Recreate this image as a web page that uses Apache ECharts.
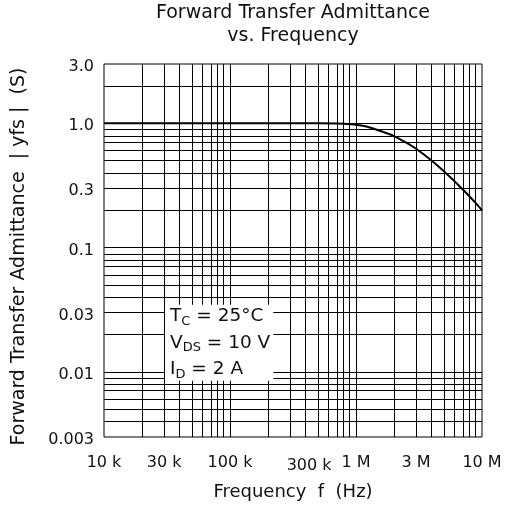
<!DOCTYPE html>
<html>
<head>
<meta charset="utf-8">
<script src="https://cdn.jsdelivr.net/npm/echarts@6/dist/echarts.min.js"></script>
<style>html,body{margin:0;padding:0;background:#fff}#c{width:512px;height:513px}</style>
</head>
<body>
<div id="c"></div>
<script>
// ---- data ----
const freqHz = [1e4, 1e5, 5e5, 7e5, 8e5, 9e5, 1e6, 1.25e6, 1.5e6, 2e6, 2.5e6, 3e6, 4e6, 5e6, 6e6, 7e6, 8e6, 9e6, 1e7];
const yfsS   = [1.0, 1.0, 1.0, 0.996, 0.991, 0.983, 0.972, 0.935, 0.88, 0.79, 0.7, 0.625, 0.5, 0.41, 0.345, 0.295, 0.257, 0.226, 0.2];

const xTickValues = [1e4, 3e4, 1e5, 3e5, 1e6, 3e6, 1e7];
const xTickLabels = ['10 k', '30 k', '100 k', '300 k', '1 M', '3 M', '10 M'];
const yTickValues = [0.003, 0.01, 0.03, 0.1, 0.3, 1, 3];
const yTickLabels = ['0.003', '0.01', '0.03', '0.1', '0.3', '1.0', '3.0'];

const xDecades = [1e4, 1e5, 1e6];
const yDecades = [0.001, 0.01, 0.1, 1];
const mantissas = [1, 2, 3, 4, 5, 6, 7, 8, 9];

const titleText = 'Forward Transfer Admittance\nvs. Frequency';
const xName = 'Frequency  f  (Hz)';
const yName = 'Forward Transfer Admittance  | yfs |  (S)  ';

// ---- build ----
const L = Math.log10;
const FONT = 'DejaVu Sans';
const xMin = L(1e4), xMax = L(1e7);
const yMin = L(0.003), yMax = L(3);

const xGrid = [];
xDecades.forEach(d => mantissas.forEach(m => { const v = m * d; if (v > 1e4 && v < 1e7) xGrid.push(v); }));
const yGrid = [];
yDecades.forEach(d => mantissas.forEach(m => { const v = m * d; if (v > 0.003 + 1e-9 && v < 3 - 1e-9) yGrid.push(v); }));

const lineData = freqHz.map((f, i) => [L(f), L(yfsS[i])]);

function pick(vals, labels, v) {
  const i = vals.findIndex(t => Math.abs(L(t) - v) < 1e-6);
  return i >= 0 ? labels[i] : '';
}

const gridLines = [];
xGrid.forEach(v => gridLines.push({ xAxis: L(v) }));
yGrid.forEach(v => gridLines.push({ yAxis: L(v) }));

const chart = echarts.init(document.getElementById('c'), null, { renderer: 'canvas' });
chart.setOption({
  animation: false,
  backgroundColor: '#fff',
  textStyle: { fontFamily: FONT, color: '#000' },
  title: [
    {
      text: titleText,
      left: 293, top: 2, textAlign: 'center', padding: 0,
      textStyle: { fontFamily: FONT, fontSize: 19, fontWeight: 'normal', color: '#111', lineHeight: 23 }
    },
    {
      text: '{n|T}{s|C}{n| = 25°C}\n{n|V}{s|DS}{n| = 10 V}\n{n|I}{s|D}{n| = 2 A}',
      left: 165, top: 303, padding: [0, 3, 0, 5],
      backgroundColor: '#fff',
      z: 10,
      textStyle: {
        fontFamily: FONT, fontSize: 18.5, fontWeight: 'normal', color: '#111',
        rich: {
          n: { fontFamily: FONT, fontSize: 18.5, lineHeight: 26.5, color: '#111' },
          s: { fontFamily: FONT, fontSize: 13, lineHeight: 26.5, padding: [10, 0, 0, 0], color: '#111' }
        }
      }
    }
  ],
  grid: { left: 104, top: 64, width: 378, height: 373, show: true, borderColor: '#000', borderWidth: 1, backgroundColor: 'transparent' },
  xAxis: {
    type: 'value', min: xMin, max: xMax,
    name: xName, nameLocation: 'middle', nameGap: 46,
    nameTextStyle: { fontFamily: FONT, fontSize: 18, color: '#111' },
    axisLine: { show: false }, axisTick: { show: false }, splitLine: { show: false },
    axisLabel: {
      customValues: xTickValues.map(L),
      margin: 18,
      fontFamily: FONT, fontSize: 16, color: '#111',
      formatter: v => {
        const s = pick(xTickValues, xTickLabels, v);
        return s === '300 k' ? '{o|' + s + '}' : s;
      },
      rich: { o: { fontFamily: FONT, fontSize: 16, color: '#111', padding: [3, 0, 0, 38] } }
    }
  },
  yAxis: {
    type: 'value', min: yMin, max: yMax,
    name: yName, nameLocation: 'middle', nameGap: 75,
    nameTextStyle: { fontFamily: FONT, fontSize: 19, color: '#111' },
    axisLine: { show: false }, axisTick: { show: false }, splitLine: { show: false },
    axisLabel: {
      customValues: yTickValues.map(L),
      margin: 10,
      fontFamily: FONT, fontSize: 16, color: '#111',
      formatter: v => '{a|' + pick(yTickValues, yTickLabels, v) + '}',
      rich: { a: { fontFamily: FONT, fontSize: 16, color: '#111', padding: [6, 0, 0, 0] } }
    }
  },
  series: [
    {
      type: 'line', data: [], z: 1, silent: true,
      markLine: {
        silent: true, symbol: 'none', animation: false,
        label: { show: false },
        lineStyle: { color: '#000', width: 1, type: 'solid' },
        emphasis: { disabled: true },
        data: gridLines
      }
    },
    {
      type: 'line', data: lineData, smooth: 0.3, showSymbol: false, z: 3,
      lineStyle: { color: '#000', width: 2 }
    }
  ]
});
</script>
</body>
</html>
